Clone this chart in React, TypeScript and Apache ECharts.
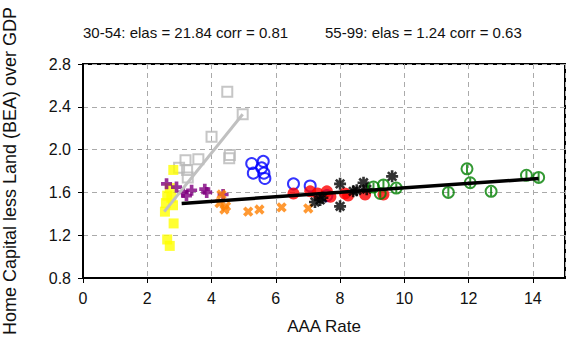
import React, { useEffect, useRef } from "react";
import * as echarts from "echarts";

// [AAA rate, home capital less land over GDP]
const gray3054: number[][] = [
  [4.49, 2.54], [4.97, 2.33], [4.0, 2.12], [4.57, 1.95], [4.55, 1.92],
  [3.59, 1.91], [3.19, 1.9], [2.99, 1.83], [3.24, 1.81], [3.26, 1.74],
];
const yellowPts: number[][] = [
  [2.81, 1.81], [2.7, 1.64], [2.62, 1.57], [2.75, 1.55], [2.58, 1.5],
  [2.8, 1.48], [2.55, 1.42], [2.82, 1.31], [2.62, 1.16], [2.7, 1.1],
];
const purplePts: number[][] = [
  [2.6, 1.68], [2.91, 1.65], [3.12, 1.6], [3.22, 1.57], [3.38, 1.62],
  [3.79, 1.63], [3.85, 1.6], [4.36, 1.58],
];
const orangePts: number[][] = [
  [4.31, 1.58], [4.25, 1.5], [4.45, 1.47], [4.4, 1.44], [5.14, 1.42],
  [5.49, 1.44], [6.18, 1.46], [7.01, 1.45],
];
const bluePts: number[][] = [
  [5.25, 1.87], [5.61, 1.89], [5.3, 1.78], [5.56, 1.83], [5.63, 1.78],
  [5.66, 1.73], [6.55, 1.68], [7.07, 1.66], [7.59, 1.57],
];
const redPts: number[][] = [
  [6.55, 1.59], [7.07, 1.61], [7.3, 1.59], [7.59, 1.61], [7.7, 1.56],
  [8.15, 1.59], [8.25, 1.57], [8.78, 1.58], [9.35, 1.58],
];
const blackPts: number[][] = [
  [7.22, 1.51], [7.38, 1.53], [7.45, 1.55], [8.0, 1.68], [8.0, 1.47],
  [8.41, 1.61], [8.52, 1.62], [8.73, 1.69], [8.83, 1.63], [9.62, 1.75],
];
const greenPts: number[][] = [
  [9.04, 1.65], [9.25, 1.59], [9.35, 1.67], [9.75, 1.64], [11.37, 1.6],
  [11.95, 1.82], [12.05, 1.69], [12.7, 1.61], [13.8, 1.76], [14.18, 1.74],
];
const fit3054: number[][] = [[2.53, 1.42], [4.97, 2.33]];
const fit5599: number[][] = [[3.07, 1.497], [14.18, 1.73]];

const titleLeft = "30-54: elas = 21.84 corr = 0.81";
const titleRight = "55-99: elas = 1.24 corr = 0.63";
const xName = "AAA Rate";
const yName = "Home Capital less Land (BEA) over GDP";

const PLUS = "path://M-1,-3L1,-3L1,-1L3,-1L3,1L1,1L1,3L-1,3L-1,1L-3,1L-3,-1L-1,-1Z";
const STAR =
  "path://M-0.22,-1L0.22,-1L0.22,1L-0.22,1Z" +
  "M-1,-0.22L1,-0.22L1,0.22L-1,0.22Z" +
  "M0.5516,-0.8627L0.8627,-0.5516L-0.5516,0.8627L-0.8627,0.5516Z" +
  "M-0.8627,-0.5516L-0.5516,-0.8627L0.8627,0.5516L0.5516,0.8627Z" +
  "M-0.45,-0.45L0.45,-0.45L0.45,0.45L-0.45,0.45Z";
const THETA = "path://M0,-1A1,1,0,1,1,0,1A1,1,0,1,1,0,-1ZM0,-0.8L0,0.8";

export default function App() {
  const ref = useRef<HTMLDivElement>(null);
  useEffect(() => {
    if (!ref.current) return;
    const chart = echarts.init(ref.current, null, { renderer: "svg" });
    const font = "Liberation Sans, Arial, sans-serif";
    chart.setOption({
      animation: false,
      backgroundColor: "#ffffff",
      title: [
        { text: titleLeft, left: 78, top: 20, textStyle: { fontFamily: font, fontSize: 15, fontWeight: "normal", color: "#111" } },
        { text: titleRight, left: 320, top: 20, textStyle: { fontFamily: font, fontSize: 15, fontWeight: "normal", color: "#111" } },
      ],
      grid: {
        left: 83, right: 11, top: 64, bottom: 61, show: true, borderColor: "#000", borderWidth: 2,
        backgroundColor: "transparent", containLabel: false, outerBoundsMode: "none",
      },
      xAxis: {
        type: "value", min: 0, max: 15, interval: 2,
        name: xName, nameLocation: "middle", nameGap: 40,
        nameTextStyle: { fontFamily: font, fontSize: 17, color: "#111" },
        axisLine: { show: true, lineStyle: { color: "#000", width: 2 } },
        axisTick: { show: true, length: 5, lineStyle: { color: "#000", width: 1 } },
        axisLabel: { fontFamily: font, fontSize: 16, color: "#111", margin: 12, showMaxLabel: false },
        splitLine: { show: true, lineStyle: { color: "#aaaaaa", type: [5, 4], width: 1 } },
      },
      yAxis: {
        type: "value", min: 0.8, max: 2.8, interval: 0.4,
        name: yName, nameLocation: "middle", nameGap: 64,
        nameTextStyle: { fontFamily: font, fontSize: 18, color: "#111" },
        axisLine: { show: true, lineStyle: { color: "#000", width: 2 } },
        axisTick: { show: true, length: 5, lineStyle: { color: "#000", width: 1 } },
        axisLabel: { fontFamily: font, fontSize: 16, color: "#111", margin: 12, formatter: (v: number) => v.toFixed(1) },
        splitLine: { show: true, lineStyle: { color: "#aaaaaa", type: [5, 4], width: 1 } },
      },
      series: [
        { type: "scatter", data: gray3054, symbol: "rect", symbolSize: 10, itemStyle: { color: "transparent", borderColor: "#b8b8b8", borderWidth: 2 } },
        { type: "scatter", data: yellowPts, symbol: "rect", symbolSize: 10, itemStyle: { color: "#ffff00" } },
        { type: "scatter", data: purplePts, symbol: PLUS, symbolSize: 11, itemStyle: { color: "#800080" } },
        { type: "scatter", data: orangePts, symbol: PLUS, symbolSize: 11, symbolRotate: 45, itemStyle: { color: "#ff8000" } },
        { type: "scatter", data: bluePts, symbol: "circle", symbolSize: 11, itemStyle: { color: "transparent", borderColor: "#0000ff", borderWidth: 2 } },
        { type: "scatter", data: redPts, symbol: "circle", symbolSize: 12, itemStyle: { color: "#ff0000" } },
        { type: "scatter", data: blackPts, symbol: STAR, symbolSize: 12, itemStyle: { color: "#000000" } },
        { type: "scatter", data: greenPts, symbol: THETA, symbolSize: 11, itemStyle: { color: "transparent", borderColor: "#008000", borderWidth: 2 } },
        { type: "line", data: fit3054, symbol: "none", lineStyle: { color: "#c0c0c0", width: 3 } },
        { type: "line", data: fit5599, symbol: "none", lineStyle: { color: "#000000", width: 3.5 } },
      ],
    });
    return () => chart.dispose();
  }, []);
  return <div ref={ref} style={{ width: 576, height: 339, position: "absolute", left: 0, top: 0 }} />;
}
